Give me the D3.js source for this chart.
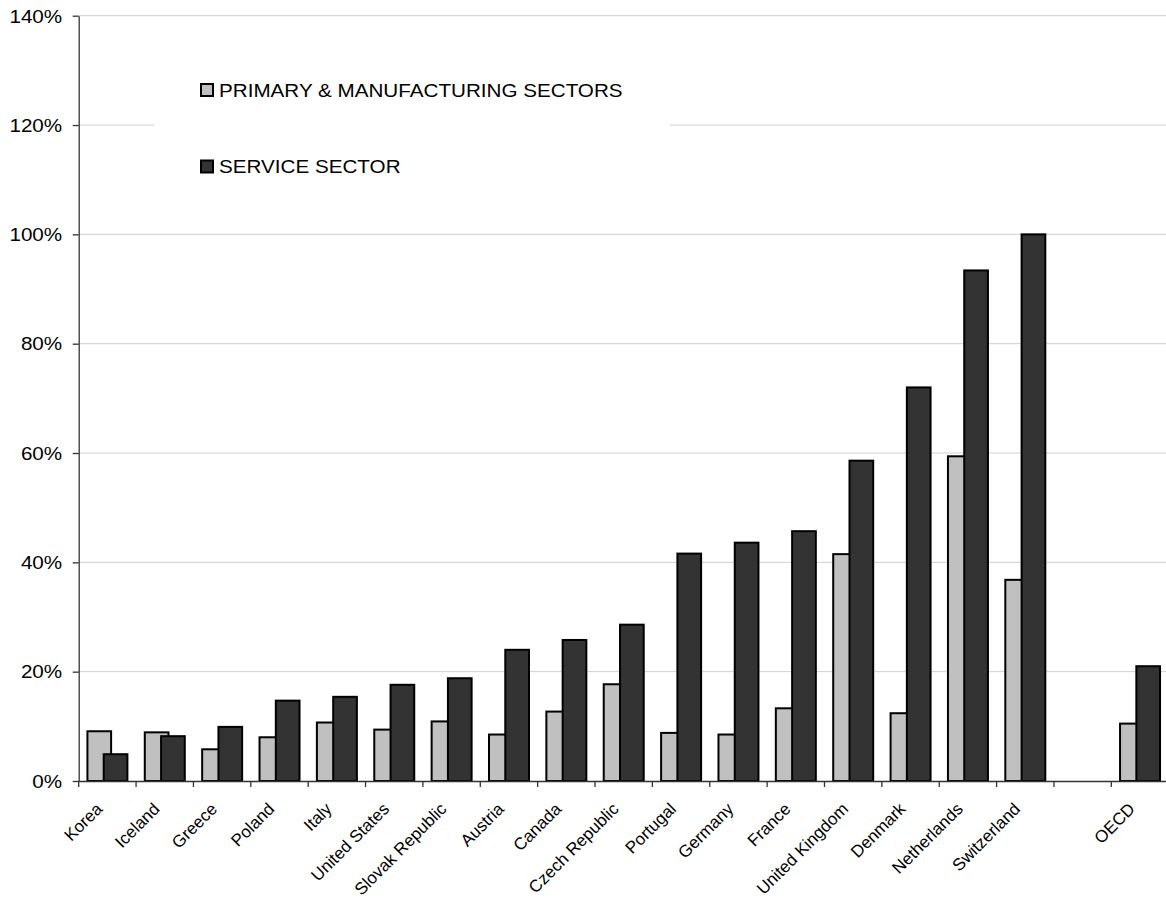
<!DOCTYPE html>
<html>
<head>
<meta charset="utf-8">
<script src="https://cdn.jsdelivr.net/npm/d3@7"></script>
<style>
  html, body { margin: 0; padding: 0; background: #ffffff; }
  svg { display: block; font-family: "Liberation Sans", Arial, sans-serif; }
</style>
</head>
<body>
<svg id="chart" width="1166" height="904"></svg>
<script>
// Countries (an empty slot separates the OECD average)
const categories = ["Korea", "Iceland", "Greece", "Poland", "Italy", "United States",
  "Slovak Republic", "Austria", "Canada", "Czech Republic", "Portugal", "Germany",
  "France", "United Kingdom", "Denmark", "Netherlands", "Switzerland", "", "OECD"];

// Share (%) by sector
const primaryValues = [9.1, 8.9, 5.8, 8.0, 10.7, 9.4, 10.9, 8.5, 12.7, 17.7, 8.8, 8.5,
  13.3, 41.5, 12.4, 59.4, 36.8, null, 10.5];
const serviceValues = [4.9, 8.2, 9.9, 14.7, 15.4, 17.6, 18.8, 24.0, 25.8, 28.6, 41.6, 43.6,
  45.7, 58.6, 72.0, 93.4, 100.0, null, 21.0];

const seriesNames = ["PRIMARY & MANUFACTURING SECTORS", "SERVICE SECTOR"];
const yTicks = [0, 20, 40, 60, 80, 100, 120, 140];

const colors = ["#c0c0c0", "#333333"];
const textStretch = 1.18;

const svg = d3.select("#chart");

const plotLeft = 78.7, plotRight = 1168.7, plotTop = 15.7, plotBottom = 781;
const x = d3.scaleBand().domain(categories).range([plotLeft, plotRight]).padding(0);
const y = d3.scaleLinear().domain([0, 140]).range([plotBottom, plotTop]);
const bw = x.bandwidth();
const barW = bw * 0.413;
const barStep = bw * 0.284;
const barStart = bw * 0.152;

// Horizontal gridlines
svg.append("g").selectAll("line")
  .data(yTicks.filter(d => d > 0))
  .join("line")
  .attr("x1", plotLeft).attr("x2", 1166)
  .attr("y1", d => y(d)).attr("y2", d => y(d))
  .attr("stroke", "#cfcfcf").attr("stroke-width", 1);

// Legend panel sits over the gridlines
svg.append("rect")
  .attr("x", 154).attr("y", 60).attr("width", 516).attr("height", 138)
  .attr("fill", "#ffffff");

// Bars
const series = [primaryValues, serviceValues];
series.forEach((vals, si) => {
  svg.append("g").selectAll("rect")
    .data(categories.map((c, i) => ({ c, v: vals[i] })).filter(d => d.v != null))
    .join("rect")
    .attr("x", d => x(d.c) + barStart + si * barStep)
    .attr("y", d => y(d.v))
    .attr("width", barW)
    .attr("height", d => y(0) - y(d.v))
    .attr("fill", colors[si])
    .attr("stroke", "#000")
    .attr("stroke-width", 2);
});

// Y axis
const yAxis = svg.append("g")
  .attr("transform", `translate(${plotLeft},0)`)
  .call(d3.axisLeft(y).tickValues(yTicks).tickFormat(d => d + "%").tickSize(6).tickSizeOuter(0));
yAxis.select(".domain").attr("stroke", "#333").attr("stroke-width", 1.3);
yAxis.selectAll(".tick line").attr("stroke", "#333").attr("stroke-width", 1.3);
yAxis.selectAll(".tick text")
  .attr("x", 0).attr("dy", "0.36em")
  .attr("transform", `translate(-16.5,0) scale(${textStretch},1)`)
  .attr("font-size", "17.5px")
  .attr("font-family", "'Liberation Sans', Arial, sans-serif")
  .attr("fill", "#000");

// X axis line and category boundary ticks
const xAxis = svg.append("g")
  .attr("transform", `translate(0,${plotBottom})`)
  .call(d3.axisBottom(x).tickSize(0).tickFormat(""));
xAxis.select(".domain").attr("stroke", "#333").attr("stroke-width", 1.3);
svg.append("g").selectAll("line")
  .data(categories.map(c => x(c)).concat([plotRight]))
  .join("line")
  .attr("x1", d => d).attr("x2", d => d)
  .attr("y1", plotBottom).attr("y2", plotBottom + 6)
  .attr("stroke", "#333").attr("stroke-width", 1.3);

// Rotated category labels
svg.append("g").selectAll("text")
  .data(categories.filter(c => c !== ""))
  .join("text")
  .attr("transform", c => `translate(${x(c) + bw / 2 - 4},${plotBottom + 29}) rotate(-45)`)
  .attr("text-anchor", "end")
  .attr("font-size", "17px")
  .attr("fill", "#000")
  .text(c => c);

// Legend
const legend = svg.append("g");
seriesNames.forEach((name, i) => {
  const cy = 90.5 + i * 76.5;
  legend.append("rect")
    .attr("x", 201).attr("y", cy - 6.5).attr("width", 12).attr("height", 12)
    .attr("fill", colors[i]).attr("stroke", "#000").attr("stroke-width", 2);
  legend.append("text")
    .attr("transform", `translate(219,${cy}) scale(${textStretch},1)`)
    .attr("dy", "0.36em")
    .attr("font-size", "17.5px")
    .attr("fill", "#000")
    .text(name);
});
</script>
</body>
</html>
